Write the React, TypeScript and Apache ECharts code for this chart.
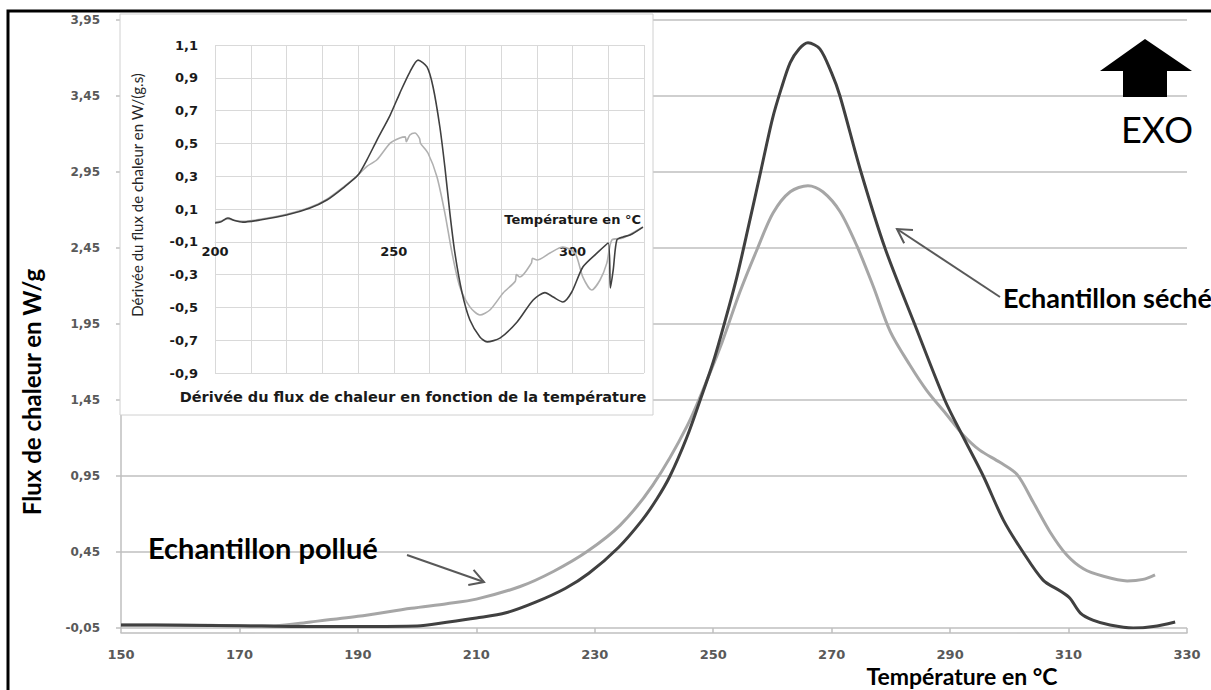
import { useEffect, useRef } from 'react';
import * as echarts from 'echarts';

// ---- Main chart data: heat flow (W/g) vs temperature (°C) ----
const darkTemp = [150, 160, 170, 180, 190, 200, 205, 210, 215, 220, 225, 229, 234, 238, 240.5, 242.7, 245.5, 247.8, 250, 252, 254, 256, 258, 260, 261.5, 263, 264.5, 266, 268, 270, 271.4, 274.8, 279, 284, 289.1, 292.3, 295.6, 299, 302.3, 305.7, 308.6, 310.2, 312, 314.1, 317, 320.9, 324.3, 328];
const darkFlux = [-0.03, -0.032, -0.035, -0.04, -0.04, -0.037, -0.012, 0.016, 0.05, 0.12, 0.21, 0.31, 0.48, 0.66, 0.8, 0.95, 1.2, 1.45, 1.7, 1.97, 2.26, 2.6, 2.95, 3.3, 3.5, 3.67, 3.76, 3.8, 3.76, 3.6, 3.45, 2.97, 2.45, 1.95, 1.45, 1.2, 0.95, 0.66, 0.45, 0.265, 0.193, 0.147, 0.048, 0.002, -0.03, -0.05, -0.04, -0.01];

const lightTemp = [150, 160, 170, 176, 182, 190, 199, 205, 210, 217.4, 223, 228.7, 234.3, 239.8, 245.6, 249.5, 251.5, 254.5, 257.4, 260.1, 263, 266, 268.5, 271.4, 274.3, 277, 279.9, 283.2, 286.1, 289.5, 292.2, 295, 298.4, 301.3, 304, 306.9, 309.7, 312.5, 315.9, 319.9, 322.6, 324.6];
const lightFlux = [-0.03, -0.03, -0.035, -0.035, -0.01, 0.027, 0.08, 0.11, 0.14, 0.223, 0.322, 0.453, 0.627, 0.89, 1.28, 1.633, 1.83, 2.16, 2.44, 2.68, 2.82, 2.86, 2.82, 2.69, 2.46, 2.2, 1.9, 1.68, 1.51, 1.35, 1.22, 1.12, 1.04, 0.96, 0.78, 0.58, 0.43, 0.34, 0.29, 0.26, 0.27, 0.3];

// ---- Inset data: derivative of heat flow vs temperature ----
const insetDarkTemp = [200, 201.5, 203.6, 205.5, 207.8, 212.6, 220, 226.6, 231.3, 235.8, 240, 242.5, 245.3, 249, 251.7, 254.5, 256.8, 259.3, 261, 262.9, 264.3, 265.7, 267.1, 269.1, 271.3, 274.1, 276.1, 279.7, 284.5, 289, 292.3, 294.6, 297.3, 299.8, 302.9, 306.9, 310, 310.6, 311.4, 312.4, 314.1, 316.1, 319.7];
const insetDarkDeriv = [0.015, 0.02, 0.045, 0.03, 0.02, 0.033, 0.063, 0.106, 0.155, 0.228, 0.307, 0.4, 0.52, 0.673, 0.807, 0.935, 1.008, 0.966, 0.844, 0.6, 0.356, 0.075, -0.168, -0.41, -0.577, -0.68, -0.71, -0.687, -0.589, -0.455, -0.41, -0.437, -0.467, -0.406, -0.254, -0.168, -0.107, -0.382, -0.27, -0.089, -0.07, -0.059, -0.01];

const insetLightTemp = [200, 201.5, 203.6, 205.5, 207.8, 212.6, 220, 226.6, 231.3, 235.8, 240, 242.5, 245.3, 249, 251.7, 253.2, 253.5, 254.5, 255.9, 257.2, 257.5, 259.6, 262.1, 264.3, 266.3, 268.5, 271.3, 274.1, 276.9, 280.6, 284, 284.3, 285.3, 288.5, 288.8, 290.1, 293.7, 297.3, 300.7, 302.9, 305.4, 307.7, 309.6, 311, 314.1, 319.7];
const insetLightDeriv = [0.02, 0.025, 0.04, 0.03, 0.025, 0.037, 0.068, 0.11, 0.16, 0.232, 0.307, 0.36, 0.4, 0.502, 0.533, 0.54, 0.51, 0.551, 0.563, 0.53, 0.5, 0.44, 0.295, 0.075, -0.168, -0.376, -0.497, -0.546, -0.516, -0.412, -0.34, -0.3, -0.315, -0.23, -0.2, -0.211, -0.168, -0.132, -0.168, -0.315, -0.394, -0.333, -0.23, -0.089, -0.077, -0.01];

const pairs = (xs: number[], ys: number[]) => xs.map((x, i) => [x, ys[i]]);

function arrow(x1: number, y1: number, x2: number, y2: number, color: string, width: number, head: number) {
  const dx = x2 - x1;
  const dy = y2 - y1;
  const len = Math.hypot(dx, dy);
  const ux = dx / len;
  const uy = dy / len;
  const a = Math.PI / 6;
  const c = Math.cos(a);
  const s = Math.sin(a);
  const w1 = [x2 - head * (ux * c - uy * s), y2 - head * (ux * s + uy * c)];
  const w2 = [x2 - head * (ux * c + uy * s), y2 - head * (-ux * s + uy * c)];
  return [
    { type: 'line', z: 30, shape: { x1, y1, x2, y2 }, style: { stroke: color, lineWidth: width } },
    { type: 'polyline', z: 30, shape: { points: [w1, [x2, y2], w2] }, style: { stroke: color, lineWidth: width, fill: null } },
  ];
}

export default function App() {
  const ref = useRef<HTMLDivElement>(null);

  useEffect(() => {
    if (!ref.current) return;
    const chart = echarts.init(ref.current, null, { renderer: 'svg' });

    const tickFont = { fontFamily: 'DejaVu Sans', fontWeight: 'bold' as const };

    const option: any = {
      animation: false,
      backgroundColor: '#ffffff',
      grid: [
        { left: 121, top: 20, width: 1066, height: 608 },
        { left: 215, top: 45, width: 429, height: 328, z: 6 },
      ],
      xAxis: [
        {
          gridIndex: 0,
          type: 'value',
          min: 150,
          max: 330,
          interval: 20,
          offset: 5,
          axisLine: { onZero: false, lineStyle: { color: '#bfbfbf', width: 1.5 } },
          axisTick: { inside: true, length: 5, lineStyle: { color: '#bfbfbf', width: 1.5 } },
          splitLine: { show: false },
          axisLabel: { ...tickFont, fontSize: 13, color: '#595959', margin: 15 },
        },
        {
          gridIndex: 1,
          type: 'value',
          min: 200,
          max: 320,
          interval: 10,
          offset: -131,
          z: 6,
          axisLine: { onZero: false, lineStyle: { color: '#d9d9d9', width: 1 } },
          axisTick: { show: false },
          splitLine: { show: true, lineStyle: { color: '#d9d9d9', width: 1 } },
          axisLabel: {
            ...tickFont,
            fontSize: 13,
            color: '#1a1a1a',
            margin: 3,
            formatter: (v: number) => (v % 50 === 0 ? String(v) : ''),
          },
        },
      ],
      yAxis: [
        {
          gridIndex: 0,
          type: 'value',
          min: -0.05,
          max: 3.95,
          interval: 0.5,
          axisLine: { show: true, lineStyle: { color: '#bfbfbf', width: 1.5 } },
          axisTick: { show: true, length: 5, lineStyle: { color: '#bfbfbf', width: 1.5 } },
          splitLine: { show: true, lineStyle: { color: '#bfbfbf', width: 1.5 } },
          axisLabel: {
            ...tickFont,
            fontSize: 12,
            color: '#595959',
            margin: 21,
            formatter: (v: number) => v.toFixed(2).replace('.', ','),
          },
        },
        {
          gridIndex: 1,
          type: 'value',
          min: -0.9,
          max: 1.1,
          interval: 0.2,
          z: 6,
          axisLine: { show: false },
          axisTick: { show: false },
          splitLine: { show: true, lineStyle: { color: '#d9d9d9', width: 1 } },
          axisLabel: {
            ...tickFont,
            fontSize: 13,
            color: '#1a1a1a',
            margin: 17,
            formatter: (v: number) => v.toFixed(1).replace('.', ','),
          },
        },
      ],
      series: [
        {
          name: 'Echantillon pollué',
          type: 'line',
          xAxisIndex: 0,
          yAxisIndex: 0,
          data: pairs(lightTemp, lightFlux),
          showSymbol: false,
          smooth: 0.3,
          lineStyle: { color: '#a6a6a6', width: 3 },
          z: 2,
        },
        {
          name: 'Echantillon séché',
          type: 'line',
          xAxisIndex: 0,
          yAxisIndex: 0,
          data: pairs(darkTemp, darkFlux),
          showSymbol: false,
          smooth: 0.3,
          lineStyle: { color: '#404040', width: 3 },
          z: 3,
        },
        {
          name: 'Dérivée pollué',
          type: 'line',
          xAxisIndex: 1,
          yAxisIndex: 1,
          data: pairs(insetLightTemp, insetLightDeriv),
          showSymbol: false,
          smooth: 0.25,
          lineStyle: { color: '#b0b0b0', width: 1.6 },
          z: 8,
        },
        {
          name: 'Dérivée séché',
          type: 'line',
          xAxisIndex: 1,
          yAxisIndex: 1,
          data: pairs(insetDarkTemp, insetDarkDeriv),
          showSymbol: false,
          smooth: 0.25,
          lineStyle: { color: '#404040', width: 1.6 },
          z: 9,
        },
      ],
      graphic: [
        // inset background box
        {
          type: 'rect',
          z: 4,
          shape: { x: 120, y: 14, width: 533, height: 401 },
          style: { fill: '#ffffff', stroke: '#d0d0d0', lineWidth: 1 },
        },
        // outer black frame
        {
          type: 'rect',
          z: 40,
          shape: { x: 8, y: 11, width: 1400, height: 900 },
          style: { fill: null, stroke: '#000000', lineWidth: 3 },
        },
        // inset texts
        {
          type: 'text',
          z: 20,
          x: 641,
          y: 219,
          style: { text: 'Température en °C', fontFamily: 'DejaVu Sans', fontWeight: 'bold', fontSize: 13, fill: '#1a1a1a', align: 'right', verticalAlign: 'middle' },
        },
        {
          type: 'text',
          z: 20,
          x: 413,
          y: 397,
          style: { text: 'Dérivée du flux de chaleur en fonction de la température', fontFamily: 'DejaVu Sans', fontWeight: 'bold', fontSize: 14.5, fill: '#1a1a1a', align: 'center', verticalAlign: 'middle' },
        },
        {
          type: 'text',
          z: 20,
          x: 137,
          y: 195,
          rotation: Math.PI / 2,
          style: { text: 'Dérivée du flux de chaleur en W/(g.s)', fontFamily: 'Lato', fontSize: 15, fill: '#262626', align: 'center', verticalAlign: 'middle' },
        },
        // main axis titles
        {
          type: 'text',
          z: 20,
          x: 31,
          y: 392,
          rotation: Math.PI / 2,
          style: { text: 'Flux de chaleur en W/g', fontFamily: 'Lato', fontWeight: 'bold', fontSize: 24, fill: '#000000', align: 'center', verticalAlign: 'middle' },
        },
        {
          type: 'text',
          z: 20,
          x: 962,
          y: 676,
          style: { text: 'Température en °C', fontFamily: 'Lato', fontWeight: 'bold', fontSize: 23, fill: '#000000', align: 'center', verticalAlign: 'middle' },
        },
        // annotations
        {
          type: 'text',
          z: 20,
          x: 148,
          y: 547,
          style: { text: 'Echantillon pollué', fontFamily: 'Lato', fontWeight: 'bold', fontSize: 29, fill: '#000000', align: 'left', verticalAlign: 'middle' },
        },
        {
          type: 'text',
          z: 20,
          x: 1003,
          y: 297,
          style: { text: 'Echantillon séché', fontFamily: 'Lato', fontWeight: 'bold', fontSize: 27, fill: '#000000', align: 'left', verticalAlign: 'middle' },
        },
        {
          type: 'text',
          z: 20,
          x: 1157,
          y: 129,
          style: { text: 'EXO', fontFamily: 'Lato', fontSize: 36, fill: '#000000', align: 'center', verticalAlign: 'middle' },
        },
        {
          type: 'polygon',
          z: 20,
          shape: { points: [[1145, 39], [1192, 71], [1167, 71], [1167, 97], [1123, 97], [1123, 71], [1100, 71]] },
          style: { fill: '#000000' },
        },
        ...arrow(407, 555, 484, 582, '#595959', 2, 16),
        ...arrow(1000, 297, 897, 229, '#595959', 2, 16),
      ],
    };

    chart.setOption(option);
    return () => chart.dispose();
  }, []);

  return (
    <div
      ref={ref}
      style={{ position: 'fixed', left: 0, top: 0, width: 1211, height: 690, background: '#ffffff' }}
    />
  );
}
